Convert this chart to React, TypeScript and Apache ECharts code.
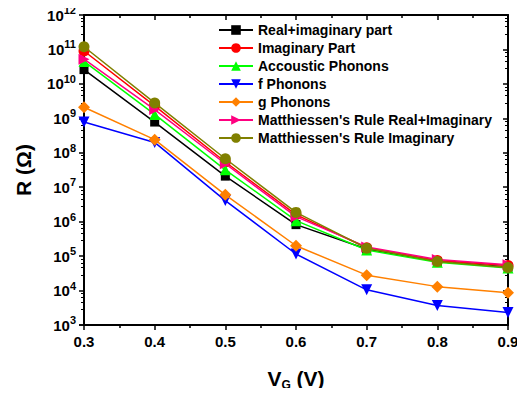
import React, { useEffect, useRef } from "react";
import * as echarts from "echarts";

const vg = [0.3, 0.4, 0.5, 0.6, 0.7, 0.8, 0.9];
const realImag = [2.6e10, 7.8e8, 2.1e7, 8.2e5, 1.6e5, 7.0e4, 4.8e4];
const imagPart = [9.0e10, 2.3e9, 5.4e7, 1.6e6, 1.75e5, 7.5e4, 5.3e4];
const acoustic = [4.5e10, 1.3e9, 3.2e7, 1.07e6, 1.5e5, 6.6e4, 4.5e4];
const fPhonons = [7.8e8, 2.0e8, 4.1e6, 1.15e5, 1.05e4, 3.7e3, 2.3e3];
const gPhonons = [2.1e9, 2.4e8, 6.0e6, 2.0e5, 2.8e4, 1.3e4, 8.7e3];
const mattRealImag = [5.2e10, 1.8e9, 4.8e7, 1.4e6, 1.85e5, 8.0e4, 5.6e4];
const mattImag = [1.2e11, 2.8e9, 6.7e7, 1.86e6, 1.7e5, 7.0e4, 4.7e4];

const seriesNames = [
  "Real+imaginary part",
  "Imaginary Part",
  "Accoustic Phonons",
  "f Phonons",
  "g Phonons",
  "Matthiessen's Rule Real+Imaginary",
  "Matthiessen's Rule Imaginary",
];
const seriesData = [realImag, imagPart, acoustic, fPhonons, gPhonons, mattRealImag, mattImag];
const colors = ["#000000", "#ff0000", "#00ff00", "#0000ff", "#ff8000", "#ff0080", "#808000"];
const symbols = ["rect", "circle", "triangle", "triangle", "diamond", "triangle", "circle"];
const rotations = [0, 0, 0, 180, 0, -90, 0];

export default function App() {
  const ref = useRef<HTMLDivElement>(null);
  useEffect(() => {
    if (!ref.current) return;
    const chart = echarts.init(ref.current, null, { renderer: "svg" });
    const font = "Arial, 'Liberation Sans', sans-serif";
    const axisLine = { show: true, lineStyle: { color: "#000", width: 2 } };
    chart.setOption({
      animation: false,
      backgroundColor: "#fff",
      textStyle: { fontFamily: font },
      grid: { left: 84, right: 17, top: 15, bottom: 71 },
      legend: {
        left: 213,
        top: 18,
        orient: "vertical",
        itemWidth: 34,
        itemHeight: 12,
        itemGap: 4,
        textStyle: { fontFamily: font, fontWeight: "bold", fontSize: 14, lineHeight: 14, color: "#000" },
        data: seriesNames,
      },
      xAxis: [
        {
          type: "value",
          min: 0.3,
          max: 0.9,
          interval: 0.1,
          axisLine,
          axisTick: { show: true, inside: false, length: 5, lineStyle: { width: 1.5, color: "#000" } },
          minorTick: { show: true, splitNumber: 2, length: 3, lineStyle: { color: "#000", width: 1.5 } },
          splitLine: { show: false },
          axisLabel: {
            formatter: (v: number) => v.toFixed(1),
            fontSize: 15,
            fontWeight: "bold",
            color: "#000",
            margin: 9,
            fontFamily: font,
          },
          name: "{v|V}{sub|G}{v| (V)}",
          nameLocation: "middle",
          nameGap: 40,
          nameTextStyle: {
            rich: {
              v: { fontSize: 21, fontWeight: "bold", fontFamily: font, color: "#000" },
              sub: { fontSize: 12, fontWeight: "bold", fontFamily: font, color: "#000", padding: [14, 0, 0, 0] },
            },
          },
        },
        {
          type: "value",
          position: "top",
          min: 0.3,
          max: 0.9,
          interval: 0.1,
          axisLine,
          axisTick: { show: true, inside: true, length: 5, lineStyle: { width: 1.5, color: "#000" } },
          minorTick: { show: true, splitNumber: 2, length: 3, lineStyle: { color: "#000", width: 1.5 } },
          splitLine: { show: false },
          axisLabel: { show: false },
        },
      ],
      yAxis: [
        {
          type: "log",
          logBase: 10,
          min: 1e3,
          max: 1e12,
          axisLine,
          axisTick: { show: true, inside: false, length: 5, lineStyle: { width: 1.5, color: "#000" } },
          minorTick: { show: true, splitNumber: 5, length: 3, lineStyle: { color: "#000", width: 1 } },
          splitLine: { show: false },
          axisLabel: {
            formatter: (v: number) => `{b|10}{s|${Math.round(Math.log10(v))}}`,
            margin: 8,
            rich: {
              b: { fontSize: 15, fontWeight: "bold", color: "#000", fontFamily: font },
              s: { fontSize: 11, fontWeight: "bold", color: "#000", fontFamily: font, padding: [0, 0, 10, 0] },
            },
          },
          name: "R (Ω)",
          nameLocation: "middle",
          nameGap: 50,
          nameTextStyle: { fontSize: 21, fontWeight: "bold", color: "#000", fontFamily: font },
        },
        {
          type: "log",
          logBase: 10,
          position: "right",
          min: 1e3,
          max: 1e12,
          axisLine,
          axisTick: { show: true, inside: true, length: 5, lineStyle: { width: 1.5, color: "#000" } },
          minorTick: { show: true, splitNumber: 5, length: 3, lineStyle: { color: "#000", width: 1 } },
          splitLine: { show: false },
          axisLabel: { show: false },
        },
      ],
      series: seriesNames.map((name, i) => ({
        name,
        type: "line",
        xAxisIndex: 0,
        yAxisIndex: 0,
        data: vg.map((x, j) => [x, seriesData[i][j]]),
        symbol: symbols[i],
        symbolRotate: rotations[i],
        symbolSize: symbols[i] === "rect" ? 9 : symbols[i] === "diamond" ? 12 : 11,
        showAllSymbol: true,
        lineStyle: { color: colors[i], width: 1.5 },
        itemStyle: { color: colors[i] },
        z: 2 + i,
      })),
    });
    return () => chart.dispose();
  }, []);
  return <div ref={ref} style={{ width: 525, height: 396, margin: -8 }} />;
}
